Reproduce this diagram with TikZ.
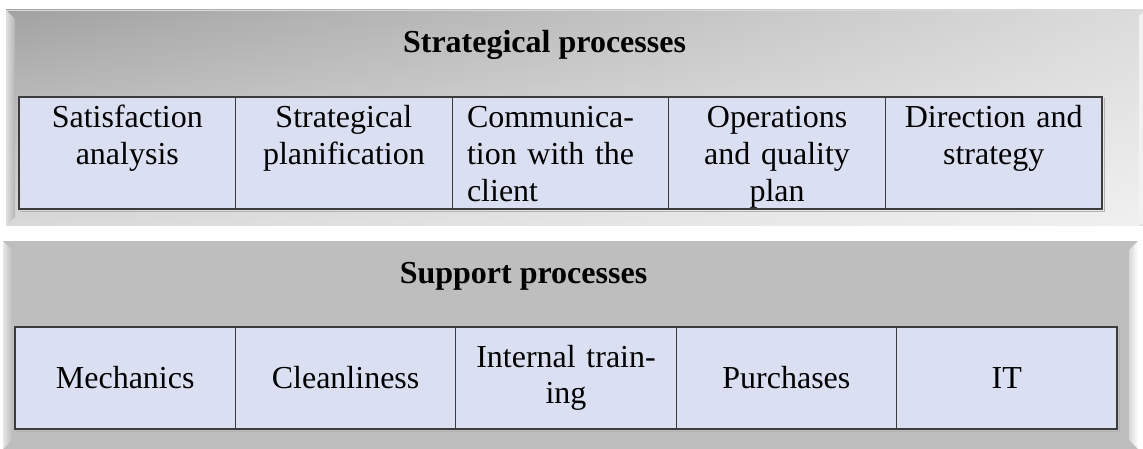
\documentclass[tikz,border=0pt]{standalone}
\usepackage{fontspec}
\setmainfont{Liberation Serif}
\usepackage{tikz}
\usetikzlibrary{shapes, positioning, fadings}

\definecolor{stratdark}{HTML}{A2A2A2}
\definecolor{stratlight}{HTML}{DCDCDC}
\definecolor{suppgray}{HTML}{BEBEBE}
\definecolor{cellblue}{HTML}{DBDFF2}
\definecolor{cellline}{HTML}{3C3C3C}

\begin{document}
\begin{tikzpicture}[x=1pt, y=-1pt, node distance=216.6pt, auto]
% Node styles
\tikzstyle{cell} = [rectangle, minimum width=216.6pt, minimum height=112pt, text width=187pt, text centered, inner sep=0pt, text height=31pt, text depth=81pt, draw=cellline, line width=1.2pt, fill=cellblue, font=\fontsize{32pt}{36.6pt}\selectfont]
\tikzstyle{suppcell} = [rectangle, minimum width=220.4pt, minimum height=102pt, text width=187pt, text centered, inner sep=0pt, draw=cellline, line width=1.2pt, fill=cellblue, font=\fontsize{32pt}{36.6pt}\selectfont]
\tikzstyle{title} = [anchor=base, inner sep=0pt, font=\fontsize{32pt}{36.6pt}\selectfont\bfseries]
\tikzstyle{shadowline} = [gray!60, line width=1pt]

\useasboundingbox (0,0) rectangle (1143,449);

% Panels
\shade [left color=stratdark, right color=stratlight] (6,10) rectangle (1143,226);
\fill [white, opacity=0.6, path fading=north] (6,10) rectangle (1143,226);
\draw [gray!30, line width=1pt] (6,10.5) -- (1143,10.5);
\shade [left color=gray!25, right color=stratdark!80!white] (6,10) -- (15,19) -- (15,217) -- (6,226) -- cycle;
\fill [white!90!gray] (1143,12) -- (1139,16) -- (1139,222) -- (1143,226) -- cycle;
\fill [suppgray] (3,241) rectangle (1138,449);
\shade [left color=gray!20, right color=suppgray] (3,241) -- (12,250) -- (12,440) -- (3,449) -- cycle;
\shade [left color=suppgray!60!white, right color=white] (1138,241) -- (1129,250) -- (1129,440) -- (1138,449) -- cycle;

% Titles
\node [title] (strattitle) at (544.5,53) {Strategical processes};
\node [title] (supptitle) at (523.5,283) {Support processes};

% Strategical processes
\node [cell] (satisf) at (127.3,153) {Satisfaction\\ analysis};
\node [cell, right of=satisf] (planif) {Strategical\\ planification};
\node [cell, right of=planif, align=left] (commun) {Communica-\\ tion with the\\ client};
\node [cell, right of=commun] (operat) {Operations\\ and quality\\ plan};
\node [cell, right of=operat] (direct) {Direction and\\ strategy};

% Support processes
\node [suppcell] (mechan) at (125.2,378) {Mechanics};
\node [suppcell, right of=mechan, xshift=3.8pt] (clean) {Cleanliness};
\node [suppcell, right of=clean, xshift=3.8pt] (train) {Internal train-\\ ing};
\node [suppcell, right of=train, xshift=3.8pt] (purch) {Purchases};
\node [suppcell, right of=purch, xshift=3.8pt] (it) {IT};

% Soft shadow under the rows
\draw [shadowline] ([xshift=1.5pt, yshift=-1.6pt]satisf.south west) -- ([xshift=1.6pt, yshift=-1.6pt]direct.south east) -- ([xshift=1.6pt, yshift=-1.5pt]direct.north east);
\draw [shadowline] ([xshift=1.5pt, yshift=-1.6pt]mechan.south west) -- ([xshift=1.6pt, yshift=-1.6pt]it.south east) -- ([xshift=1.6pt, yshift=-1.5pt]it.north east);
\end{tikzpicture}
\end{document}
